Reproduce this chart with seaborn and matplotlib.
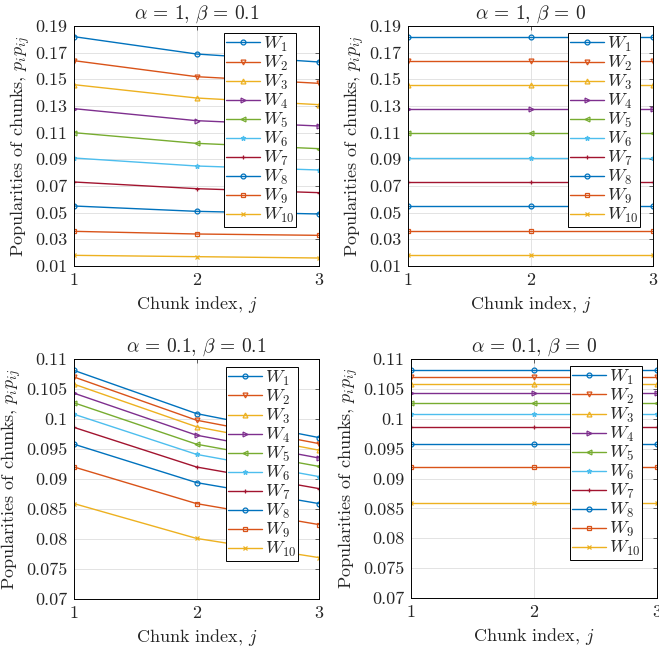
"""
Chunk popularity plots (2x2 panels) redrawn with seaborn
"""

import matplotlib
matplotlib.use("Agg")
import matplotlib.pyplot as plt
import seaborn as sns

# Data
chunks = [1, 2, 3]
labels = [f"$W_{{{i}}}$" for i in range(1, 11)]

# alpha = 1, beta = 0.1
a1_b01 = [
    [0.182, 0.169, 0.163],
    [0.164, 0.152, 0.147],
    [0.146, 0.136, 0.131],
    [0.128, 0.119, 0.115],
    [0.110, 0.102, 0.098],
    [0.091, 0.085, 0.082],
    [0.073, 0.068, 0.065],
    [0.055, 0.051, 0.049],
    [0.036, 0.034, 0.033],
    [0.018, 0.017, 0.016],
]
# alpha = 1, beta = 0
a1_b0 = [
    [0.182, 0.182, 0.182],
    [0.164, 0.164, 0.164],
    [0.146, 0.146, 0.146],
    [0.128, 0.128, 0.128],
    [0.110, 0.110, 0.110],
    [0.091, 0.091, 0.091],
    [0.073, 0.073, 0.073],
    [0.055, 0.055, 0.055],
    [0.036, 0.036, 0.036],
    [0.018, 0.018, 0.018],
]
# alpha = 0.1, beta = 0.1
a01_b01 = [
    [0.1081, 0.1009, 0.0969],
    [0.1070, 0.0998, 0.0959],
    [0.1058, 0.0987, 0.0948],
    [0.1043, 0.0973, 0.0935],
    [0.1027, 0.0958, 0.0921],
    [0.1008, 0.0941, 0.0904],
    [0.0986, 0.0920, 0.0884],
    [0.0958, 0.0894, 0.0859],
    [0.0920, 0.0859, 0.0824],
    [0.0859, 0.0801, 0.0769],
]
# alpha = 0.1, beta = 0
a01_b0 = [
    [0.1081, 0.1081, 0.1081],
    [0.1070, 0.1070, 0.1070],
    [0.1058, 0.1058, 0.1058],
    [0.1043, 0.1043, 0.1043],
    [0.1027, 0.1027, 0.1027],
    [0.1008, 0.1008, 0.1008],
    [0.0986, 0.0986, 0.0986],
    [0.0958, 0.0958, 0.0958],
    [0.0920, 0.0920, 0.0920],
    [0.0859, 0.0859, 0.0859],
]

top_ticks = [0.01, 0.03, 0.05, 0.07, 0.09, 0.11, 0.13, 0.15, 0.17, 0.19]
top_ticklabels = ["0.01", "0.03", "0.05", "0.07", "0.09", "0.11", "0.13", "0.15", "0.17", "0.19"]
bot_ticks = [0.07, 0.075, 0.08, 0.085, 0.09, 0.095, 0.1, 0.105, 0.11]
bot_ticklabels = ["0.07", "0.075", "0.08", "0.085", "0.09", "0.095", "0.1", "0.105", "0.11"]

# MATLAB default line colours, cycled
colors = ["#0072BD", "#D95319", "#EDB120", "#7E2F8E", "#77AC30",
          "#4DBEEE", "#A2142F", "#0072BD", "#D95319", "#EDB120"]
markers = ["o", "v", "^", ">", "<", "*", "+", "o", "s", "x"]

sns.set_style("white")
plt.rcParams["font.family"] = ["cmr10", "DejaVu Serif"]
plt.rcParams["mathtext.fontset"] = "cm"
plt.rcParams["axes.formatter.use_mathtext"] = True

W, H = 659, 647
fig = plt.figure(figsize=(W / 100, H / 100), dpi=100)

panels = [
    # data, title, ticks, ticklabels, axes rect (px: left, top, right, bottom), legend anchor
    (a1_b01, r"$\alpha\,=\,1,\,\beta\,=\,0.1$", top_ticks, top_ticklabels, (74, 26, 319, 266), (0.906, 0.971)),
    (a1_b0, r"$\alpha\,=\,1,\,\beta\,=\,0$", top_ticks, top_ticklabels, (408, 26, 653, 266), (0.947, 0.971)),
    (a01_b01, r"$\alpha\,=\,0.1,\,\beta\,=\,0.1$", bot_ticks, bot_ticklabels, (74, 359, 319, 599), (0.914, 0.967)),
    (a01_b0, r"$\alpha\,=\,0.1,\,\beta\,=\,0$", bot_ticks, bot_ticklabels, (411, 359, 657, 598), (0.939, 0.971)),
]

for data, title, ticks, ticklabels, (l, t, r, b), anchor in panels:
    ax = fig.add_axes([l / W, 1 - b / H, (r - l) / W, (b - t) / H])
    for vals, c, m, lab in zip(data, colors, markers, labels):
        sns.lineplot(x=chunks, y=vals, ax=ax, color=c, marker=m, label=lab,
                     linewidth=1.0, markersize=3.5, markeredgewidth=0.9,
                     markeredgecolor=c, markerfacecolor="none")

    ax.set_xlim(1, 3)
    ax.set_ylim(ticks[0], ticks[-1])
    ax.set_xticks(chunks)
    ax.set_xticklabels([str(c) for c in chunks])
    ax.set_yticks(ticks)
    ax.set_yticklabels(ticklabels)
    ax.tick_params(direction="in", length=3, width=0.5, labelsize=13,
                   top=True, right=True, pad=5)
    ax.grid(True, color="#dedede", linewidth=0.6)
    for sp in ax.spines.values():
        sp.set_color("black")
        sp.set_linewidth(0.7)

    ax.set_title(title, fontsize=14, pad=5)
    ax.set_xlabel(r"Chunk index, $j$", fontsize=13, labelpad=4)
    ax.set_ylabel(r"Popularities of chunks, $p_i p_{ij}$", fontsize=13, labelpad=2)

    ax.legend(loc="upper right", bbox_to_anchor=anchor, fontsize=13,
              frameon=True, fancybox=False, framealpha=1, edgecolor="black",
              borderpad=0.1, labelspacing=0.0, handlelength=1.9,
              handletextpad=0.15, borderaxespad=0.0)
    ax.get_legend().get_frame().set_linewidth(0.7)

fig.savefig("out.png", dpi=100)
